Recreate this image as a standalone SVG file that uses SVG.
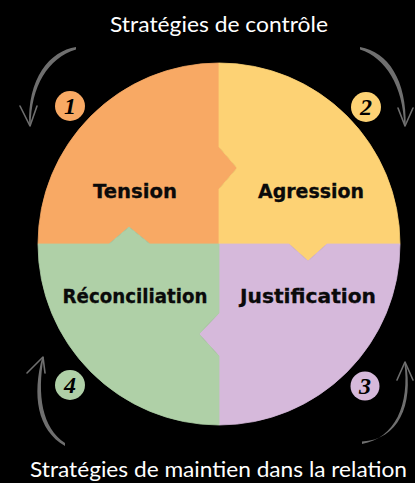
<svg xmlns="http://www.w3.org/2000/svg" width="415" height="483" viewBox="0 0 415 483">
  <style>
    .title { font-family: "Lato", "Liberation Sans", sans-serif; font-size: 22px; fill: #ffffff; text-anchor: middle; }
    .label { font-family: "DejaVu Sans", "Liberation Sans", sans-serif; font-weight: bold; font-size: 19px; fill: #0a0a0a; text-anchor: middle; stroke: #0a0a0a; stroke-width: 0.3; }
    .num { font-family: "Liberation Serif", serif; font-style: italic; font-weight: bold; font-size: 24px; fill: #000000; text-anchor: middle; }
    .brush { fill: #6f6f6f; }
    .head { fill: none; stroke: #6f6f6f; stroke-width: 1.6; stroke-linecap: round; stroke-linejoin: round; }
    .q { stroke-width: 0.8; stroke-linejoin: miter; }
  </style>
  <rect x="0" y="0" width="415" height="483" fill="#000000"/>

  <text class="title" x="219" y="32" textLength="218" lengthAdjust="spacingAndGlyphs">Stratégies de contrôle</text>
  <text class="title" x="218.5" y="477" textLength="377" lengthAdjust="spacingAndGlyphs">Stratégies de maintien dans la relation</text>

  <g id="tension">
    <path class="q" d="M219,244 L219,189 L237,168 L219,147 L219,63 A181,181 0 0 0 38,244 L109,244 L129,227 L150,244 Z" fill="#F8A964" stroke="#F8A964"/>
    <text class="label" x="135" y="198" textLength="84" lengthAdjust="spacingAndGlyphs">Tension</text>
  </g>
  <g id="agression">
    <path class="q" d="M219,63 A181,181 0 0 1 400,244 L327,244 L308,261 L289,244 L219,244 L219,189 L237,168 L219,147 Z" fill="#FDD274" stroke="#FDD274"/>
    <text class="label" x="311" y="198" textLength="106" lengthAdjust="spacingAndGlyphs">Agression</text>
  </g>
  <g id="justification">
    <path class="q" d="M400,244 A181,181 0 0 1 219,425 L219,356 L199,334 L219,313 L219,244 L289,244 L308,261 L327,244 Z" fill="#D6B9DB" stroke="#D6B9DB"/>
    <text class="label" x="308" y="303" textLength="136" lengthAdjust="spacingAndGlyphs">Justification</text>
  </g>
  <g id="reconciliation">
    <path class="q" d="M219,425 A181,181 0 0 1 38,244 L109,244 L129,227 L150,244 L219,244 L219,313 L199,334 L219,356 Z" fill="#AFD0A7" stroke="#AFD0A7"/>
    <text class="label" x="135" y="303" textLength="145" lengthAdjust="spacingAndGlyphs">Réconciliation</text>
  </g>

  <g id="badge1">
    <circle cx="70" cy="106" r="15" fill="#F8A964"/>
    <text class="num" x="70" y="114">1</text>
  </g>
  <g id="badge2">
    <circle cx="366" cy="107" r="15" fill="#FDD274"/>
    <text class="num" x="366" y="115">2</text>
  </g>
  <g id="badge3">
    <circle cx="365" cy="386" r="14.5" fill="#D6B9DB"/>
    <text class="num" x="365" y="394">3</text>
  </g>
  <g id="badge4">
    <circle cx="70" cy="385" r="15" fill="#AFD0A7"/>
    <text class="num" x="70" y="393">4</text>
  </g>

  <g id="connectors">
    <path class="brush" d="M76,47 C50,51 27,78 29.3,126 L30.7,126 C31,86 48,58 76,49.5 Z"/>
    <polyline class="head" points="20,106 30,126 37,106"/>
    <path class="brush" d="M360,47 C388,52 407,80 405.7,126 L404.3,126 C403,86 386,58 360,49.5 Z"/>
    <polyline class="head" points="398,108 405,126 413,108"/>
    <path class="brush" d="M65,446 C37,430 32,395 42.3,357 L43.7,357 C37,395 42,428 65,443 Z"/>
    <polyline class="head" points="27,373 43,357 45,373"/>
    <path class="brush" d="M362,444 C395,438 410,405 404.3,362 L405.7,362 C414,405 398,440 362,441.5 Z"/>
    <polyline class="head" points="397,380 405,362 413,380"/>
  </g>
</svg>
